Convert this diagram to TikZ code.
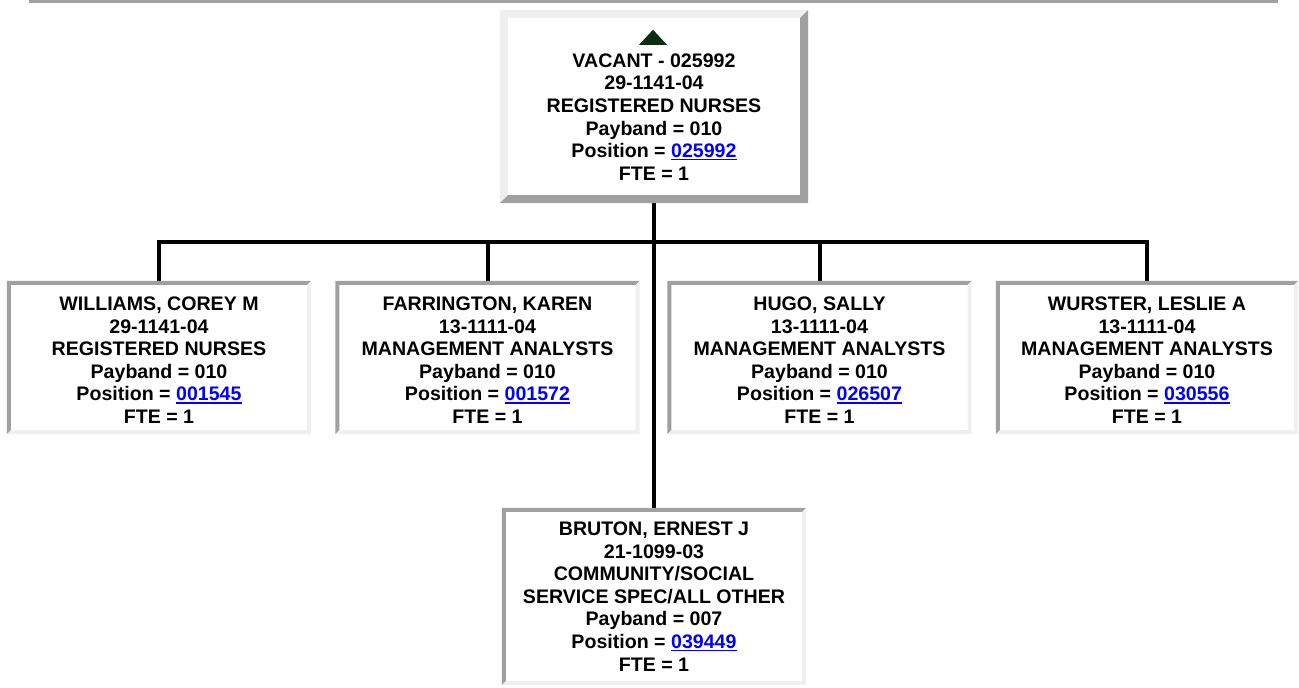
\documentclass[tikz,border=0pt]{standalone}
\usepackage{fontspec}
\setmainfont{Liberation Sans}
\usetikzlibrary{positioning}

% blue underlined position number
\newcommand{\poslink}[1]{\textcolor{linkblue}{\setbox0\hbox{#1}\rlap{\raisebox{-2.6pt}{\rule{\wd0}{1.6pt}}}\box0}}
% taller first line, pushes the text a little down
\newcommand{\topstrut}[1]{\rule{0pt}{#1pt}}
% bevelled frame round a node: #1 node, #2 top/left colour, #3 bottom/right colour, #4 width
\newcommand{\bevelframe}[4]{%
  \fill[#2] (#1.north west) -- (#1.north east) -- ([shift={(-#4,#4)}]#1.north east)
    -- ([shift={(#4,#4)}]#1.north west) -- ([shift={(#4,-#4)}]#1.south west) -- (#1.south west) -- cycle;
  \fill[#3] (#1.south east) -- (#1.north east) -- ([shift={(-#4,#4)}]#1.north east)
    -- ([shift={(-#4,-#4)}]#1.south east) -- ([shift={(#4,-#4)}]#1.south west) -- (#1.south west) -- cycle;
}

\begin{document}
\begin{tikzpicture}[x=1pt, y=-1pt,
    person/.style={inner sep=0pt, align=center, minimum width=304pt, minimum height=153pt,
      font=\fontsize{19.6}{22.6}\selectfont\bfseries},
    conn/.style={line width=4pt, black}]
    \definecolor{linkblue}{RGB}{0, 0, 255}
    \definecolor{bddark}{RGB}{160, 160, 160}
    \definecolor{bdlight}{RGB}{239, 239, 239}
    \definecolor{upgreen}{RGB}{10, 46, 16}

    \useasboundingbox (0,0) rectangle (1299,688);

    % Rule
    \fill[bddark] (29,0) rectangle (1278,3);

    % Nodes
    \node[person, minimum width=308pt, minimum height=193pt] (vacant) at (654,106.5)
      {\topstrut{12}\\VACANT - 025992\\29-1141-04\\REGISTERED NURSES\\Payband = 010\\Position = \poslink{025992}\\FTE = 1};
    \node[person] (williams) at (159,357.5)
      {\topstrut{19}WILLIAMS, COREY M\\29-1141-04\\REGISTERED NURSES\\Payband = 010\\Position = \poslink{001545}\\FTE = 1};
    \node[person] (farrington) at (487.5,357.5)
      {\topstrut{19}FARRINGTON, KAREN\\13-1111-04\\MANAGEMENT ANALYSTS\\Payband = 010\\Position = \poslink{001572}\\FTE = 1};
    \node[person] (hugo) at (819.5,357.5)
      {\topstrut{19}HUGO, SALLY\\13-1111-04\\MANAGEMENT ANALYSTS\\Payband = 010\\Position = \poslink{026507}\\FTE = 1};
    \node[person, minimum width=302pt] (wurster) at (1147,357.5)
      {\topstrut{19}WURSTER, LESLIE A\\13-1111-04\\MANAGEMENT ANALYSTS\\Payband = 010\\Position = \poslink{030556}\\FTE = 1};
    \node[person, minimum height=177pt] (bruton) at (654,596.5)
      {BRUTON, ERNEST J\\21-1099-03\\COMMUNITY/SOCIAL\\SERVICE SPEC/ALL OTHER\\Payband = 007\\Position = \poslink{039449}\\FTE = 1};

    % Branches
    \coordinate (bus) at (654,242);
    \draw[conn] (vacant.south) -- (bruton.north);
    \draw[conn] (williams.north) |- (bus) -| (wurster.north);
    \draw[conn] (farrington.north) -- (farrington.north |- bus);
    \draw[conn] (hugo.north) -- (hugo.north |- bus);

    % Frames
    \bevelframe{vacant}{bdlight}{bddark}{8}
    \foreach \who in {williams, farrington, hugo, wurster, bruton}
      {\bevelframe{\who}{bddark}{bdlight}{4}}

    % Up arrow to the parent
    \fill[upgreen] ([shift={(-1,20)}]vacant.north) -- ([shift={(-15,35)}]vacant.north)
      -- ([shift={(13,35)}]vacant.north) -- cycle;
\end{tikzpicture}
\end{document}
